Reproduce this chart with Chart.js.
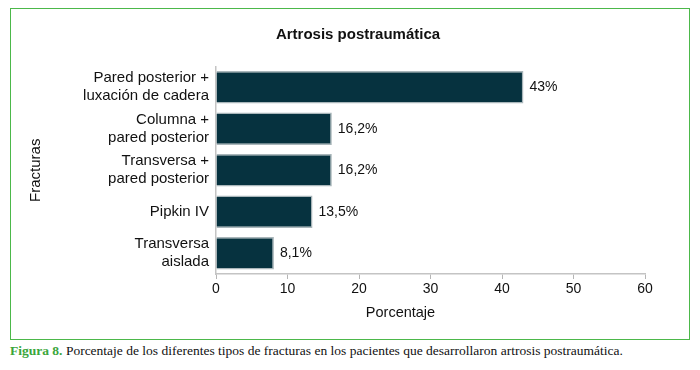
<!DOCTYPE html>
<html>
<head>
<meta charset="utf-8">
<script src="https://cdn.jsdelivr.net/npm/chart.js@4"></script>
<style>
	body { margin: 0; background: #fff; width: 700px; height: 370px; position: relative; }
	#box { position: absolute; left: 10px; top: 8px; width: 678px; height: 330px; border: 1px solid #4cb84a; }
	#caption { position: absolute; left: 10px; top: 343px; font-family: "Liberation Serif", serif; font-size: 13.5px; color: #111; white-space: nowrap; }
	#caption b { color: #3aa63c; }
</style>
</head>
<body>
<div id="box"><canvas id="barChart" width="678" height="330"></canvas></div>
<div id="caption"><b>Figura 8.</b> Porcentaje de los diferentes tipos de fracturas en los pacientes que desarrollaron artrosis postraumática.</div>
<script>
// 데이터
var categories = [
	['Pared posterior +', 'luxación de cadera'],
	['Columna +', 'pared posterior'],
	['Transversa +', 'pared posterior'],
	'Pipkin IV',
	['Transversa', 'aislada']
];
var values = [43, 16.2, 16.2, 13.5, 8.1];
var valueLabels = ['43%', '16,2%', '16,2%', '13,5%', '8,1%'];
var xTicks = [0, 10, 20, 30, 40, 50, 60];
var chartTitle = 'Artrosis postraumática';
var xTitle = 'Porcentaje';

var font = 'Liberation Sans, Arial, sans-serif';

// 제목, 막대 끝 라벨, x축 제목
var labelPlugin = {
	id: 'labelPlugin',
	afterDatasetsDraw: function(chart) {
		var ctx = chart.ctx;
		var meta = chart.getDatasetMeta(0);
		var area = chart.chartArea;
		ctx.save();
		ctx.fillStyle = '#111';
		ctx.textBaseline = 'middle';
		ctx.textAlign = 'left';
		ctx.font = '14px ' + font;
		meta.data.forEach(function(bar, i) {
			ctx.fillText(valueLabels[i], bar.x + 6, bar.y);
		});
		ctx.textAlign = 'center';
		ctx.font = '14.5px ' + font;
		ctx.fillText(xTitle, (area.left + area.right) / 2 - 30, 304);
		ctx.font = 'bold 15px ' + font;
		ctx.fillText(chartTitle, area.left + 142, 26);
		ctx.restore();
	}
};

var context = document.getElementById('barChart').getContext('2d');
var myChart = new Chart(context, {
	type: 'bar',
	data: {
		labels: categories,
		datasets: [{
			data: values,
			backgroundColor: '#06323f',
			borderColor: '#a9b6ba',
			borderWidth: 1.5,
			categoryPercentage: 1,
			barPercentage: 0.78
		}]
	},
	options: {
		indexAxis: 'y',
		responsive: false,
		animation: false,
		layout: { padding: { left: 12, right: 44, top: 57.5, bottom: 0 } },
		plugins: {
			legend: { display: false },
			tooltip: { enabled: false },
			title: { display: false }
		},
		scales: {
			x: {
				min: 0,
				max: 60,
				afterBuildTicks: function(scale) {
					scale.ticks = xTicks.map(function(v) { return { value: v }; });
				},
				grid: { drawOnChartArea: false, color: '#b5b5b5', tickLength: 5 },
				border: { color: '#c4c4c4', width: 1.5 },
				ticks: { color: '#111', font: { family: font, size: 14 }, padding: 2 },
				afterFit: function(scale) { scale.height = 65; }
			},
			y: {
				grid: { drawOnChartArea: false, drawTicks: false },
				border: { color: '#c4c4c4', width: 1.5 },
				ticks: { color: '#111', font: { family: font, size: 15, lineHeight: 1.2 }, padding: 7 },
				title: {
					display: true,
					text: 'Fracturas',
					color: '#111',
					font: { family: font, size: 15 }
				},
				afterFit: function(scale) { scale.width = 193; }
			}
		}
	},
	plugins: [labelPlugin]
});
</script>
</body>
</html>
